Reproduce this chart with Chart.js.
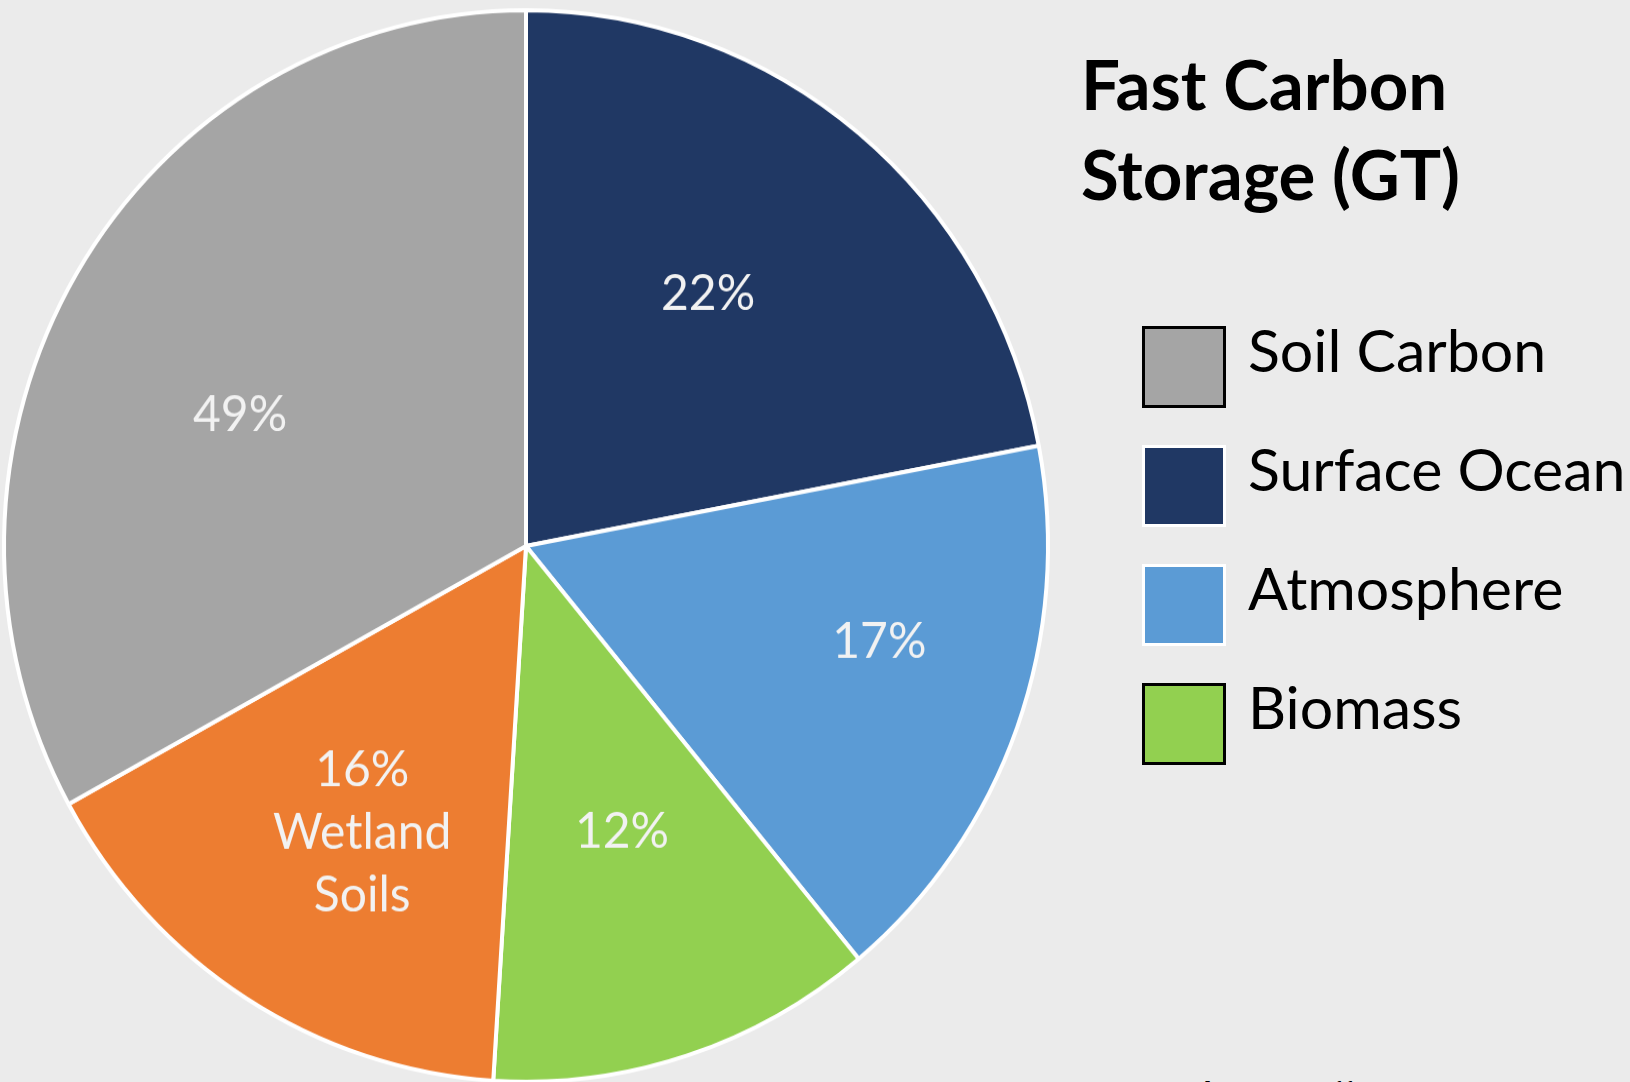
<!DOCTYPE html>
<html>
<head>
<meta charset="utf-8">
<title>Fast Carbon Storage (GT)</title>
<script src="https://cdn.jsdelivr.net/npm/chart.js@4.4.1/dist/chart.umd.min.js"></script>
<style>
  html, body { margin: 0; padding: 0; }
  body {
    width: 1630px; height: 1082px; overflow: hidden; position: relative;
    background: #ebebeb; font-family: Lato, "Noto Sans", sans-serif; color: #000;
  }
  /* the pie is slightly taller than wide */
  #pieWrap {
    position: absolute; left: -4px; top: 2px; width: 1060px; height: 1060px;
    transform: scale(1, 1.0264); transform-origin: 0 0;
  }
  .title {
    position: absolute; left: 1081px; top: 39px;
    font-weight: 700; font-size: 69px; line-height: 90px; white-space: nowrap;
  }
  .legend-row { position: absolute; left: 1142px; }
  .legend-box {
    position: absolute; left: 0; top: 0; width: 84px; height: 82px;
    box-sizing: border-box; border: 3px solid #000;
  }
  .legend-text {
    position: absolute; left: 106px; top: -6px;
    font-size: 59px; line-height: 1; white-space: nowrap;
  }
  .source {
    position: absolute; left: 1202px; top: 1075px;
    font-size: 48px; line-height: 1; white-space: nowrap;
  }
</style>
</head>
<body>
<div id="pieWrap"><canvas id="pie" width="1060" height="1060"></canvas></div>
<div class="title">Fast Carbon<br>Storage (GT)</div>
<div id="legend"></div>
<div class="source">https://</div>

<script>
// slices, clockwise from 12 o'clock (percent of fast carbon)
const categories = ['Surface Ocean', 'Atmosphere', 'Biomass', 'Wetland Soils', 'Soil Carbon'];
const shares = [22, 17, 12, 16, 33];
const sliceColors = ['#203864', '#5b9bd5', '#92d050', '#ed7d31', '#a5a5a5'];

// legend entries (wetland soils is named on its slice instead)
const legendOrder = ['Soil Carbon', 'Surface Ocean', 'Atmosphere', 'Biomass'];
const legendBorders = { 'Soil Carbon': '#000', 'Surface Ocean': '#fff', 'Atmosphere': '#fff', 'Biomass': '#000' };

// label placement inside each slice: part of the radius, and a small turn (degrees)
const labelRadius = [0.585, 0.70, 0.565, 0.62, 0.60];
const labelTurn = [-3, -5, -1, -2, -6.5];

const total = shares.reduce((a, b) => a + b, 0);
const pct = name => shares[categories.indexOf(name)] / total * 100;

function labelLines(i) {
  const name = categories[i];
  if (name === 'Soil Carbon') {
    // total soil figure includes the wetland soils
    return [Math.round(pct('Soil Carbon') + pct('Wetland Soils')) + '%'];
  }
  const lines = [Math.round(pct(name)) + '%'];
  if (name === 'Wetland Soils') lines.push(...name.split(' '));
  return lines;
}

const sliceLabels = {
  id: 'sliceLabels',
  afterDatasetsDraw(chart) {
    const ctx = chart.ctx;
    const meta = chart.getDatasetMeta(0);
    ctx.save();
    ctx.fillStyle = '#f2f2f2';
    ctx.font = '48px Lato, "Noto Sans", sans-serif';
    ctx.textAlign = 'center';
    ctx.textBaseline = 'middle';
    meta.data.forEach((arc, i) => {
      const p = arc.getProps(['x', 'y', 'startAngle', 'endAngle', 'outerRadius'], true);
      const mid = (p.startAngle + p.endAngle) / 2 + labelTurn[i] * Math.PI / 180;
      const r = p.outerRadius * labelRadius[i];
      const cx = p.x + Math.cos(mid) * r;
      const cy = p.y + Math.sin(mid) * r;
      const lines = labelLines(i);
      lines.forEach((t, k) => {
        ctx.fillText(t, cx, cy + (k - (lines.length - 1) / 2) * 61);
      });
    });
    ctx.restore();
  }
};

function buildLegend() {
  const box = document.getElementById('legend');
  legendOrder.forEach((name, i) => {
    const row = document.createElement('div');
    row.className = 'legend-row';
    row.style.top = (326 + i * 119) + 'px';
    const sw = document.createElement('div');
    sw.className = 'legend-box';
    sw.style.background = sliceColors[categories.indexOf(name)];
    sw.style.borderColor = legendBorders[name];
    const txt = document.createElement('div');
    txt.className = 'legend-text';
    txt.textContent = name;
    row.appendChild(sw);
    row.appendChild(txt);
    box.appendChild(row);
  });
}

function drawPie() {
  new Chart(document.getElementById('pie'), {
    type: 'pie',
    data: {
      labels: categories,
      datasets: [{
        data: shares,
        backgroundColor: sliceColors,
        borderColor: '#ffffff',
        borderWidth: 4
      }]
    },
    options: {
      responsive: false,
      animation: false,
      events: [],
      radius: 522,
      layout: { padding: 0 },
      plugins: {
        legend: { display: false },
        tooltip: { enabled: false }
      }
    },
    plugins: [sliceLabels]
  });
}

buildLegend();
document.fonts.load('48px Lato').then(drawPie, drawPie);
</script>
</body>
</html>
